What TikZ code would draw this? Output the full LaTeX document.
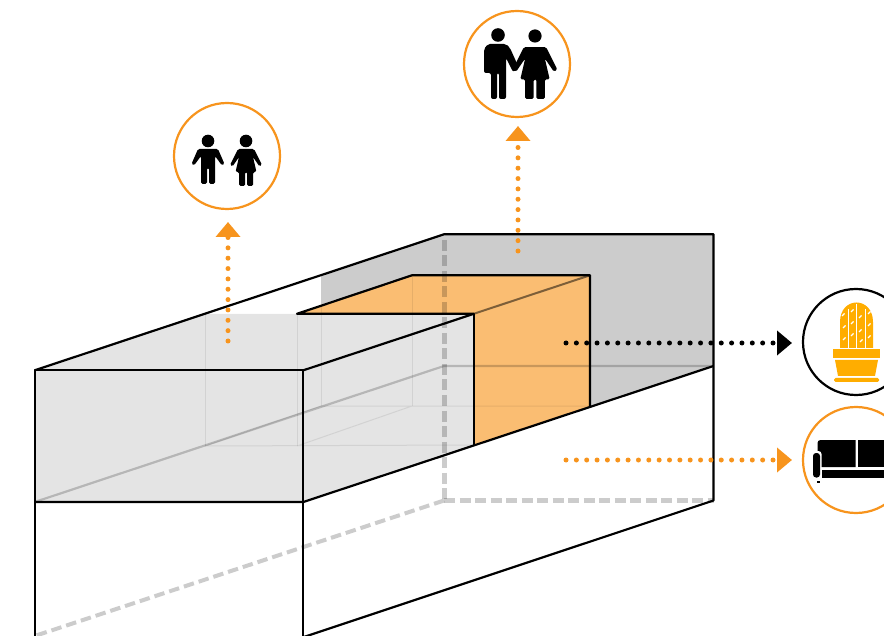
\documentclass[tikz,border=0pt]{standalone}
\usepackage{tikz}
\usetikzlibrary{arrows.meta,positioning}
\usepackage{xcolor}
\definecolor{cback}{HTML}{CCCCCC}
\definecolor{cfront}{HTML}{E4E4E4}
\definecolor{croom}{HTML}{FABD72}
\definecolor{corange}{HTML}{F7941D}
\definecolor{ccactus}{HTML}{FFAD00}

\tikzset{
  girlicon/.pic={
    \fill[rounded corners=1.5] (-8,8) -- (8,8) -- (16,24) -- (13.5,25.5) -- (7,16) -- (10.5,31) -- (7,31)
      -- (7,45) -- (1,45) -- (1,31) -- (-1,31) -- (-1,45) -- (-7,45) -- (-7,31) -- (-10.5,31)
      -- (-7,16) -- (-13.5,25.5) -- (-16,24) -- cycle;
  },
  boyicon/.pic={
    \fill[rounded corners=1.5] (-10,8) -- (10,8) -- (16.5,23) -- (14,24.5) -- (7,15) -- (7,43) -- (1,43)
      -- (1,27) -- (-1,27) -- (-1,43) -- (-7,43) -- (-7,15) -- (-14,24.5) -- (-16.5,23) -- cycle;
  }
}

\begin{document}
\begin{tikzpicture}[
  x=1pt, y=-1pt,
  badge/.style={draw=corange, fill=white, circle, line width=2.2pt, minimum size=106pt,
                inner sep=0pt, outer sep=0pt},
  outline/.style={line width=2.2pt, line join=round},
  ghost/.style={black, opacity=0.08, line width=1pt},
  hidden/.style={black, opacity=0.2, line width=2.2pt},
  hiddendash/.style={black, opacity=0.2, line width=4.4pt, dash pattern=on 11pt off 4.5pt},
  dotsorange/.style={corange, line width=5pt, line cap=round, dash pattern=on 0pt off 10.35pt,
                     -{Triangle[length=15pt,width=24pt]}},
  dotsblack/.style={dotsorange, black}
]
\useasboundingbox (0,0) rectangle (884,636);

% block corners
\coordinate (fronttl) at (34.7,370.3);
\coordinate (fronttr) at (303.3,370.3);
\coordinate (frontml) at (34.7,502);
\coordinate (frontmr) at (303.3,502);
\coordinate (frontbl) at (34.7,637.2);
\coordinate (frontbr) at (303.3,637.2);
\coordinate (backtl) at (444,234.3);
\coordinate (backtr) at (713.5,234.3);
\coordinate (backmr) at (713.5,366);
\coordinate (backbr) at (713.5,500.5);
\coordinate (backbl) at (444,500.5);
\coordinate (backml) at (444,366);
\coordinate (cuttl) at (297,313.8);
\coordinate (cuttr) at (473.8,313.8);
\coordinate (cutbr) at (473.8,445);
\coordinate (roomtl) at (412,275.3);
\coordinate (roomtr) at (590,275.3);
\coordinate (roombr) at (590,406);

% filled faces
\fill[cback] (321,275) -- (backtl) -- (backtr) -- (backmr) -- (roombr) -- (roomtr) -- (roomtl) -- (321,306) -- cycle;
\fill[cfront] (fronttl) -- (205,313.8) -- (cuttr) -- (cutbr) -- (frontmr) -- (frontml) -- cycle;
\fill[croom] (cuttl) -- (roomtl) -- (roomtr) -- (roombr) -- (cutbr) -- (cuttr) -- cycle;

% ghost of the lower flat
\draw[ghost] (205,314) -- (205,446) (297,314) -- (297,446) (321,306) -- (321,406) (412,275) -- (412,406);
\draw[ghost] (205,446) -- (cutbr) (321,406) -- (roombr) (205,446) -- (321,406) (297,446) -- (412,406);

% hidden edges
\draw[hidden] (frontml) -- (backml) -- (backmr);
\draw[hiddendash, line width=5pt] (444,240) -- (backbl);
\draw[hiddendash] (backbl) -- (backbr);
\draw[hiddendash, line width=4pt, dash pattern=on 10.5pt off 5pt] (backbl) -- (34.7,636);
\draw[black, opacity=0.5, line width=2pt] (cuttr) -- (roomtr);

% outlines
\draw[outline] (fronttl) -- (backtl) -- (backtr) -- (backbr) -- (frontbr);
\draw[outline] (frontbl) -- (frontml) -- (fronttl) -- (fronttr) -- (frontbr);
\draw[outline] (frontml) -- (frontmr) -- (backmr);
\draw[outline] (fronttr) -- (cuttr) -- (cuttl) -- (roomtl) -- (roomtr) -- (roombr);
\draw[outline] (cuttr) -- (cutbr);

% badges
\node[badge] (kids) at (227,156) {};
\node[badge] (adults) at (517,64) {};
\node[badge, draw=black] (plant) at (856,342) {};
\node[badge] (sofa) at (856,460) {};

% people
\fill (208,141) circle (6.3);
\pic at (208,141) {boyicon};
\fill (246,141) circle (6.3);
\pic at (246,141) {girlicon};
\fill (535,36) circle (6.6);
\pic[scale=1.4] at (535,36) {girlicon};
\fill (498,35) circle (6.8);
\fill[rounded corners=2] (484,73) -- (484,49) -- (488,44) -- (506,44) -- (510,48) -- (519,68) -- (513,72)
  -- (506,58) -- (506,99) -- (499,99) -- (499,73) -- (497,73) -- (497,99) -- (491,99) -- (491,73) -- cycle;

% plant
\fill[ccactus] (840,348) -- (840,322) .. controls (840,296) and (873,296) .. (873,322) -- (873,348) -- cycle;
\draw[white, line width=1pt] (848,309) -- (848,348) (856,304) -- (856,348) (865,309) -- (865,348);
\foreach \tx/\ty in {842/316, 851/312, 859/318, 868/314, 843/328, 851/324, 859/332, 868/326, 843/340, 851/336, 860/342, 868/338}
  \draw[white, line width=1.2pt] (\tx,\ty) -- ++(2.5,-2.5);
\fill[ccactus] (833,349) rectangle (880,358);
\fill[ccactus] (835,360) -- (878,360) -- (875,376) -- (838,376) -- cycle;
\fill[ccactus, rounded corners=1.5] (834,378) rectangle (879,382);

% sofa
\fill (817.5,467) {[rounded corners=3] -- (817.5,440) -- (835,440)} -- (855.5,440) -- (855.5,467) -- cycle;
\fill (858,440) rectangle (890,467);
\fill (822,470) rectangle (890,478);
\fill[white, rounded corners=3] (811.5,451) rectangle (821.5,479);
\fill[rounded corners=3] (813,453) rectangle (820,477.5);
\fill (817,481) rectangle (820,483);

% arrows
\coordinate (kidsfrom) at (228,341);
\coordinate (adultsfrom) at (518,251);
\coordinate (plantfrom) at (566,343);
\coordinate (sofafrom) at (566,460);
\draw[dotsorange] (kidsfrom) -- ([yshift=-13pt]kids.south -| kidsfrom);
\draw[dotsorange] (adultsfrom) -- ([yshift=-9pt]adults.south -| adultsfrom);
\draw[dotsblack] (plantfrom) -- ([xshift=-11pt]plant.west |- plantfrom);
\draw[dotsorange] (sofafrom) -- ([xshift=-11pt]sofa.west |- sofafrom);
\end{tikzpicture}
\end{document}
